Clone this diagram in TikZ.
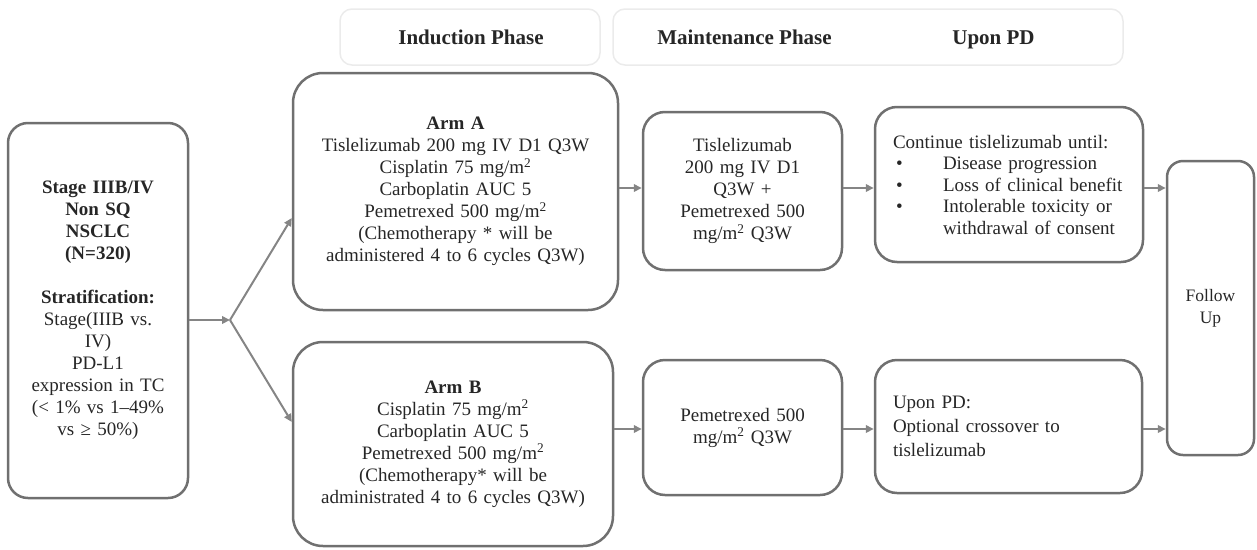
\documentclass[tikz,border=0pt]{standalone}
\usepackage{fontspec}
\setmainfont{Liberation Serif}
\usetikzlibrary{arrows.meta}
\definecolor{boxline}{HTML}{707070}
\definecolor{txt}{HTML}{262626}
\definecolor{arrline}{HTML}{858585}
\definecolor{hdrline}{HTML}{EBEBEB}
\newcommand{\msq}{mg/m\textsuperscript{2}}
\newcommand{\bul}[1]{\makebox[50pt][l]{\hspace{3pt}\textbullet}#1}

\begin{document}
\begin{tikzpicture}[x=1pt,y=-1pt,
  box/.style={draw=boxline, line width=2.5pt, rounded corners=#1, inner sep=0pt,
    align=center, text=txt, font=\fontsize{19}{22}\selectfont, anchor=center},
  box/.default=22pt,
  hdr/.style={draw=hdrline, line width=1.5pt, rounded corners=12pt, inner sep=0pt,
    anchor=center},
  hdrtext/.style={font=\fontsize{21}{24}\selectfont\bfseries, text=black!85,
    inner sep=0pt, anchor=base},
  conn/.style={draw=arrline, line width=2pt, -{Triangle[length=8pt,width=7.5pt]}}
]
\useasboundingbox (0,0) rectangle (1257,549);

% phase headers
\node[hdr, minimum width=260pt, minimum height=56pt] (hInd) at (470,37) {};
\node[hdr, minimum width=510pt, minimum height=56pt] (hRest) at (868,37) {};
\node[hdrtext] (tInd) at (471,44) {Induction Phase};
\node[hdrtext] (hMaint) at (744.5,44) {Maintenance Phase};
\node[hdrtext] (hPD) at (993.5,44) {Upon PD};

% population and stratification
\node[box=20pt, text width=180pt, minimum height=375pt] (stage) at (98,310.5)
  {\textbf{Stage IIIB/IV}\\ \textbf{Non SQ}\\ \textbf{NSCLC}\\ \textbf{(N=320)}\\[22pt]
   \textbf{Stratification:}\\ Stage(IIIB vs.\\ IV)\\ PD-L1\\ expression in TC\\
   (< 1\% vs 1–49\%\\ vs ≥ 50\%)};

% induction arms
\node[box=30pt, text width=325pt, minimum height=237pt] (armA) at (455.5,191.5)
  {\textbf{Arm A}\\ Tislelizumab 200 mg IV D1 Q3W\\ Cisplatin 75 \msq\\
   Carboplatin AUC 5\\ Pemetrexed 500 \msq\\ (Chemotherapy * will be\\
   administered 4 to 6 cycles Q3W)};
\node[box=30pt, text width=320pt, minimum height=204pt] (armB) at (453,444)
  {\textbf{Arm B}\\ Cisplatin 75 \msq\\ Carboplatin AUC 5\\ Pemetrexed 500 \msq\\
   (Chemotherapy* will be\\ administrated 4 to 6 cycles Q3W)};

% maintenance
\node[box, text width=199pt, minimum height=158pt] (maintA) at (742.5,191)
  {Tislelizumab\\ 200 mg IV D1\\ Q3W +\\ Pemetrexed 500\\ \msq{} Q3W};
\node[box, text width=199pt, minimum height=135pt] (maintB) at (742.5,427.5)
  {Pemetrexed 500\\ \msq{} Q3W};

% upon progression
\node[box, text width=232pt, inner xsep=18pt, minimum height=155pt, align=left,
  font=\fontsize{19}{21.5}\selectfont] (contA) at (1009,184.5)
  {Continue tislelizumab until:\\ \bul{Disease progression}\\
   \bul{Loss of clinical benefit}\\ \bul{Intolerable toxicity or}\\
   \hspace*{50pt}withdrawal of consent};
\node[box, text width=231pt, inner xsep=18pt, minimum height=133pt, align=left,
  font=\fontsize{19}{24}\selectfont] (pdB) at (1008.5,426.5)
  {Upon PD:\\ Optional crossover to\\ tislelizumab};

% follow up
\node[box=16pt, text width=87pt, minimum height=294pt,
  font=\fontsize{17.5}{22}\selectfont] (fu) at (1210.5,308) {Follow\\ Up};

% connectors
\coordinate (J) at (230,320);
\coordinate (rA) at (0,188);
\coordinate (rB) at (0,429);
\draw[conn] (stage.east |- J) -- (J);
\draw[conn] (J) -- ([yshift=-26.5pt]armA.west);
\draw[conn] (J) -- ([yshift=22pt]armB.west);
\draw[conn] (armA.east |- rA) -- (maintA.west |- rA);
\draw[conn] (maintA.east |- rA) -- (contA.west |- rA);
\draw[conn] (contA.east |- rA) -- (fu.west |- rA);
\draw[conn] (armB.east |- rB) -- (maintB.west |- rB);
\draw[conn] (maintB.east |- rB) -- (pdB.west |- rB);
\draw[conn] (pdB.east |- rB) -- (fu.west |- rB);
\end{tikzpicture}
\end{document}
